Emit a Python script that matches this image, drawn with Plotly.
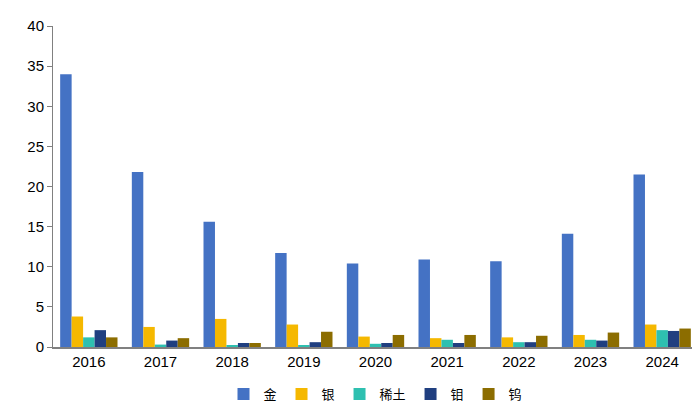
import plotly.graph_objects as go

years = ["2016","2017","2018","2019","2020","2021","2022","2023","2024"]
gold = [34.0, 21.8, 15.6, 11.7, 10.4, 10.9, 10.7, 14.1, 21.5]
silver = [3.8, 2.5, 3.5, 2.8, 1.3, 1.1, 1.2, 1.5, 2.8]
rare_earth = [1.2, 0.3, 0.2, 0.2, 0.4, 0.9, 0.6, 0.9, 2.1]
molybdenum = [2.1, 0.8, 0.5, 0.6, 0.5, 0.5, 0.6, 0.8, 2.0]
tungsten = [1.2, 1.1, 0.5, 1.9, 1.5, 1.5, 1.4, 1.8, 2.3]

series = [("金", gold, "#4472C4"), ("银", silver, "#F5B800"), ("稀土", rare_earth, "#2EC0B0"),
          ("钼", molybdenum, "#203F80"), ("钨", tungsten, "#8C6D00")]

fig = go.Figure()
for name, vals, col in series:
    fig.add_bar(x=years, y=vals, name=name, marker_color=col, marker_line_width=0)

fig.update_layout(
    width=700, height=411, barmode="group", bargap=0.2, bargroupgap=0.0,
    plot_bgcolor="white", paper_bgcolor="white",
    margin=dict(l=45, r=10, t=18, b=72),
    font=dict(family="Liberation Sans, Noto Sans CJK SC", size=15, color="#000"),
    legend=dict(orientation="h", x=0.5, xanchor="center", y=-0.1, yanchor="top",
                itemwidth=30, tracegroupgap=0,
                font=dict(size=13, family="Noto Sans CJK SC")),
    xaxis=dict(showline=True, linecolor="#808080", linewidth=1.5, ticks=""),
    yaxis=dict(range=[0, 40], dtick=5, showgrid=False, showline=True, linecolor="#808080",
               ticks="outside", ticklen=5, tickcolor="#808080", zeroline=False),
)
fig.write_html("out.html")
